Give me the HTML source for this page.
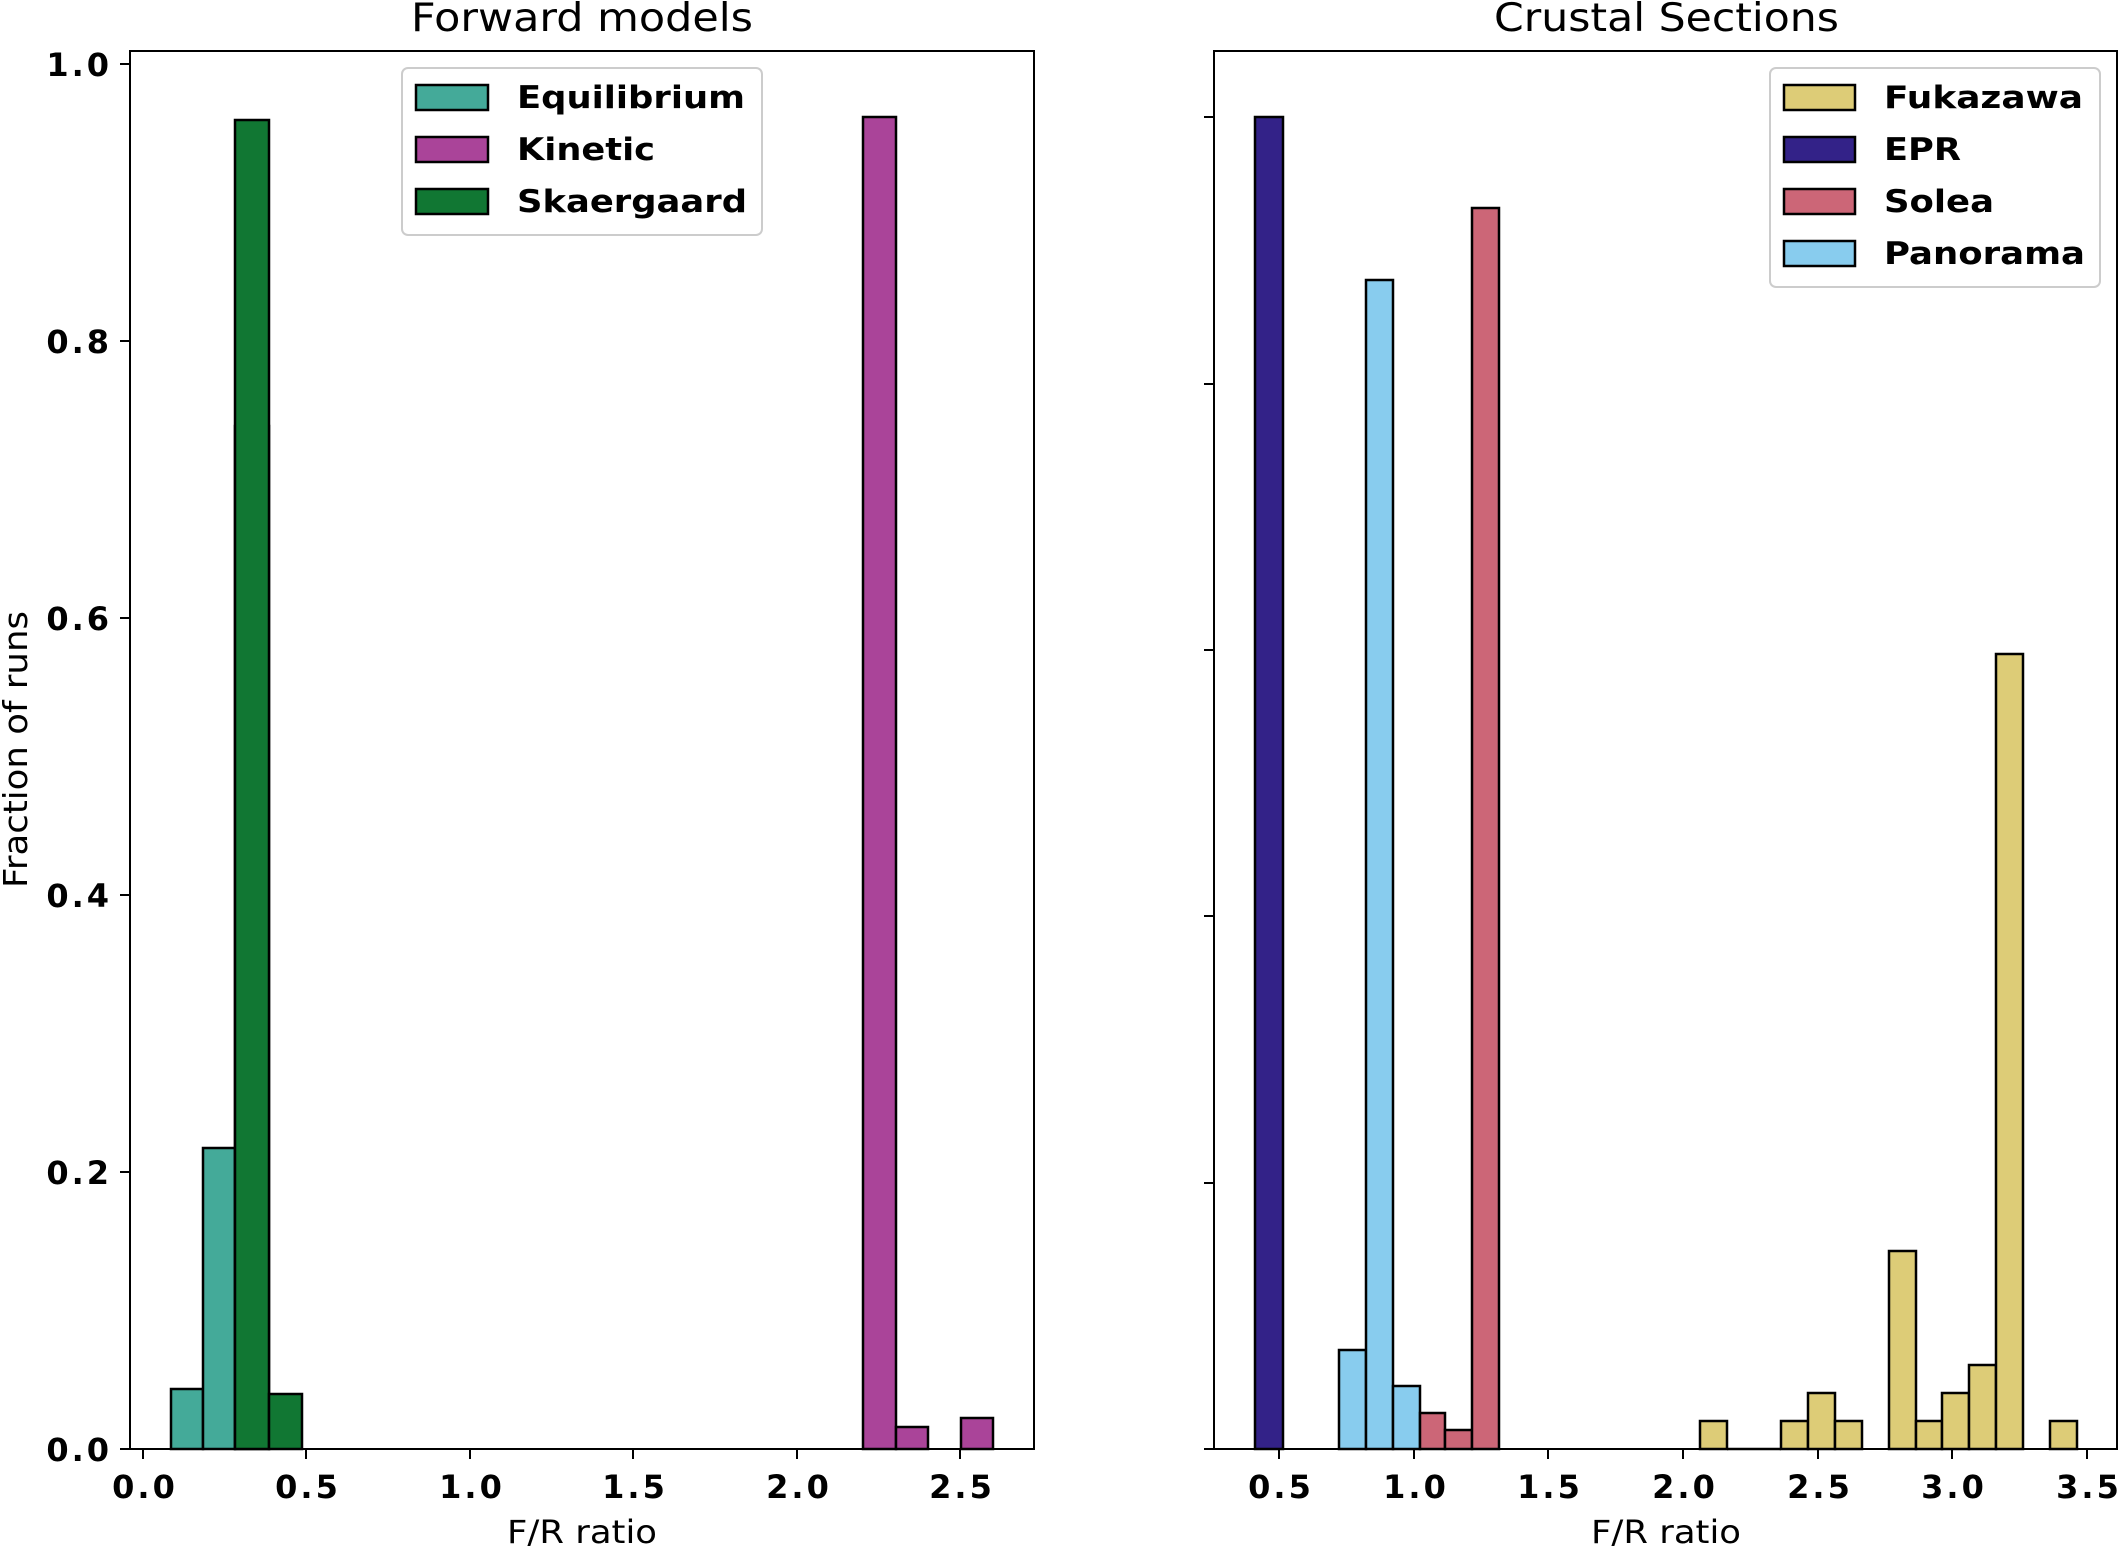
<!DOCTYPE html>
<html><head><meta charset="utf-8"><style>
html,body{margin:0;padding:0;background:#fff;}
svg{display:block;}
text{font-family:"DejaVu Sans","Liberation Sans",sans-serif;fill:#000;}
.t{font-weight:bold;font-size:32px;letter-spacing:3px;}
.lg{font-weight:bold;font-size:31px;}
</style></head><body>
<svg width="2120" height="1548" viewBox="0 0 2120 1548" xmlns="http://www.w3.org/2000/svg">
<rect width="2120" height="1548" fill="#fff"/>
<!-- LEFT PANEL -->
<text x="411" y="31" font-size="39" textLength="342" lengthAdjust="spacingAndGlyphs">Forward models</text>
<g stroke="#000" stroke-width="2.5">
<rect x="171" y="1389" width="32" height="60" fill="#44aa99"/>
<rect x="203" y="1148" width="32" height="301" fill="#44aa99"/>
<rect x="235" y="426" width="34" height="1023" fill="#44aa99"/>
<rect x="235" y="120" width="34" height="1329" fill="#117733"/>
<rect x="269" y="1394" width="33" height="55" fill="#117733"/>
<rect x="863" y="117" width="33" height="1332" fill="#aa4499"/>
<rect x="896" y="1427" width="32" height="22" fill="#aa4499"/>
<rect x="961" y="1418" width="32" height="31" fill="#aa4499"/>
</g>
<rect x="130" y="51" width="904" height="1398" fill="none" stroke="#000" stroke-width="2"/>
<g stroke="#000" stroke-width="2">
<line x1="120" y1="1449" x2="130" y2="1449"/><line x1="120" y1="1172" x2="130" y2="1172"/>
<line x1="120" y1="895" x2="130" y2="895"/><line x1="120" y1="618" x2="130" y2="618"/>
<line x1="120" y1="341" x2="130" y2="341"/><line x1="120" y1="64" x2="130" y2="64"/>
<line x1="143" y1="1449" x2="143" y2="1459"/><line x1="306" y1="1449" x2="306" y2="1459"/>
<line x1="470" y1="1449" x2="470" y2="1459"/><line x1="633" y1="1449" x2="633" y2="1459"/>
<line x1="797" y1="1449" x2="797" y2="1459"/><line x1="960" y1="1449" x2="960" y2="1459"/>
</g>
<g class="t" text-anchor="end">
<text x="112" y="1461">0.0</text><text x="112" y="1184">0.2</text><text x="112" y="907">0.4</text>
<text x="112" y="630">0.6</text><text x="112" y="353">0.8</text><text x="112" y="76">1.0</text>
</g>
<g class="t" text-anchor="middle">
<text x="145" y="1498">0.0</text><text x="308" y="1498">0.5</text><text x="472" y="1498">1.0</text>
<text x="635" y="1498">1.5</text><text x="799" y="1498">2.0</text><text x="962" y="1498">2.5</text>
</g>
<text x="507" y="1543" font-size="32" textLength="150" lengthAdjust="spacingAndGlyphs">F/R ratio</text>
<text transform="translate(27,750) rotate(-90)" x="-138" font-size="33" textLength="277" lengthAdjust="spacingAndGlyphs">Fraction of runs</text>
<rect x="402" y="68" width="360" height="167" rx="6" fill="#fff" stroke="#ccc" stroke-width="2"/>
<g stroke="#000" stroke-width="2.5">
<rect x="416" y="85" width="72" height="25" fill="#44aa99"/>
<rect x="416" y="137" width="72" height="25" fill="#aa4499"/>
<rect x="416" y="189" width="72" height="25" fill="#117733"/>
</g>
<g class="lg">
<text x="517" y="108" textLength="228" lengthAdjust="spacingAndGlyphs">Equilibrium</text>
<text x="517" y="160" textLength="138" lengthAdjust="spacingAndGlyphs">Kinetic</text>
<text x="517" y="212" textLength="230" lengthAdjust="spacingAndGlyphs">Skaergaard</text>
</g>

<!-- RIGHT PANEL -->
<text x="1494" y="31" font-size="39" textLength="345" lengthAdjust="spacingAndGlyphs">Crustal Sections</text>
<g stroke="#000" stroke-width="2.5">
<rect x="1255" y="117" width="28" height="1332" fill="#332288"/>
<rect x="1339" y="1350" width="27" height="99" fill="#88ccee"/>
<rect x="1366" y="280" width="27" height="1169" fill="#88ccee"/>
<rect x="1393" y="1386" width="27" height="63" fill="#88ccee"/>
<rect x="1420" y="1413" width="25" height="36" fill="#cc6677"/>
<rect x="1445" y="1430" width="27" height="19" fill="#cc6677"/>
<rect x="1472" y="208" width="27" height="1241" fill="#cc6677"/>
<g fill="#ddcc77">
<rect x="1700" y="1421" width="27" height="28"/>
<rect x="1781" y="1421" width="27" height="28"/>
<rect x="1808" y="1393" width="27" height="56"/>
<rect x="1835" y="1421" width="27" height="28"/>
<rect x="1889" y="1251" width="27" height="198"/>
<rect x="1916" y="1421" width="26" height="28"/>
<rect x="1942" y="1393" width="27" height="56"/>
<rect x="1969" y="1365" width="27" height="84"/>
<rect x="1996" y="654" width="27" height="795"/>
<rect x="2050" y="1421" width="27" height="28"/>
</g>
<line x1="1727" y1="1449" x2="1781" y2="1449"/>
</g>
<rect x="1214" y="51" width="903" height="1398" fill="none" stroke="#000" stroke-width="2"/>
<g stroke="#000" stroke-width="2">
<line x1="1204" y1="1449" x2="1214" y2="1449"/><line x1="1204" y1="1183" x2="1214" y2="1183"/>
<line x1="1204" y1="916" x2="1214" y2="916"/><line x1="1204" y1="650" x2="1214" y2="650"/>
<line x1="1204" y1="384" x2="1214" y2="384"/><line x1="1204" y1="117" x2="1214" y2="117"/>
<line x1="1279" y1="1449" x2="1279" y2="1459"/><line x1="1414" y1="1449" x2="1414" y2="1459"/>
<line x1="1548" y1="1449" x2="1548" y2="1459"/><line x1="1683" y1="1449" x2="1683" y2="1459"/>
<line x1="1818" y1="1449" x2="1818" y2="1459"/><line x1="1952" y1="1449" x2="1952" y2="1459"/>
<line x1="2087" y1="1449" x2="2087" y2="1459"/>
</g>
<g class="t" text-anchor="middle">
<text x="1281" y="1498">0.5</text><text x="1416" y="1498">1.0</text><text x="1550" y="1498">1.5</text>
<text x="1685" y="1498">2.0</text><text x="1820" y="1498">2.5</text><text x="1954" y="1498">3.0</text>
<text x="2089" y="1498">3.5</text>
</g>
<text x="1591" y="1543" font-size="32" textLength="150" lengthAdjust="spacingAndGlyphs">F/R ratio</text>
<rect x="1770" y="68" width="330" height="219" rx="6" fill="#fff" stroke="#ccc" stroke-width="2"/>
<g stroke="#000" stroke-width="2.5">
<rect x="1784" y="85" width="71" height="25" fill="#ddcc77"/>
<rect x="1784" y="137" width="71" height="25" fill="#332288"/>
<rect x="1784" y="189" width="71" height="25" fill="#cc6677"/>
<rect x="1784" y="241" width="71" height="25" fill="#88ccee"/>
</g>
<g class="lg">
<text x="1884" y="108" textLength="199" lengthAdjust="spacingAndGlyphs">Fukazawa</text>
<text x="1884" y="160" textLength="77" lengthAdjust="spacingAndGlyphs">EPR</text>
<text x="1884" y="212" textLength="110" lengthAdjust="spacingAndGlyphs">Solea</text>
<text x="1884" y="264" textLength="201" lengthAdjust="spacingAndGlyphs">Panorama</text>
</g>
</svg>
</body></html>
